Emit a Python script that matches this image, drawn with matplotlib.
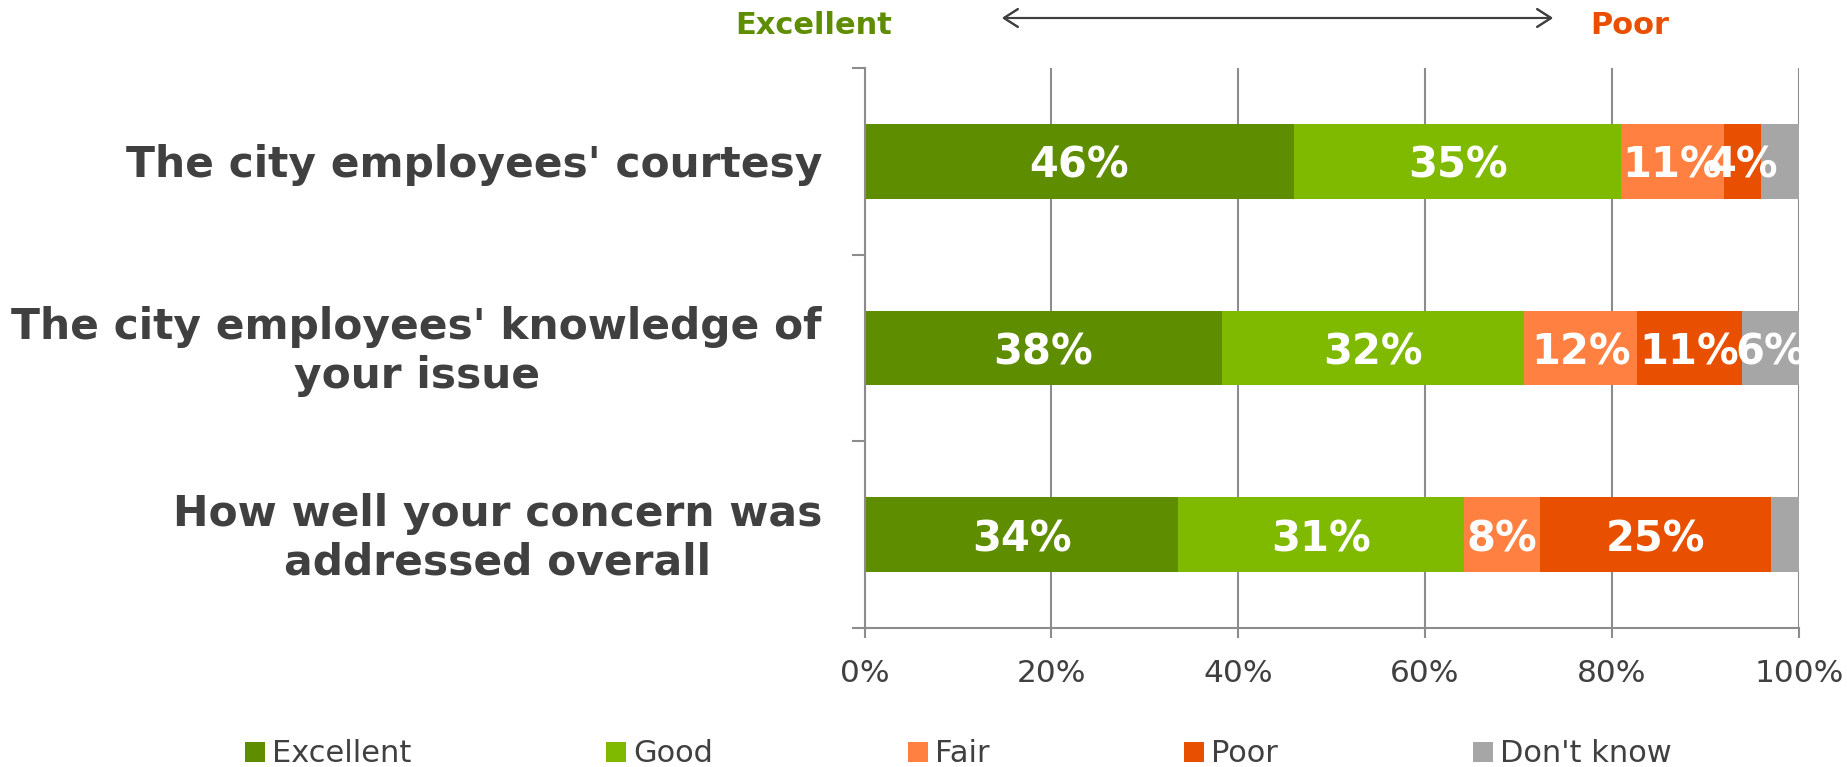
import matplotlib
matplotlib.use("Agg")
import matplotlib.pyplot as plt
from matplotlib.patches import Patch
from matplotlib.transforms import offset_copy
import numpy as np

# survey data (percent)
questions = ["The city employees' courtesy",
             "The city employees' knowledge of\nyour issue",
             "How well your concern was\naddressed overall"]
ratings = ["Excellent", "Good", "Fair", "Poor", "Don't know"]
excellent = [46, 38.3, 33.6]
good = [35, 32.3, 30.6]
fair = [11, 12.1, 8.1]
poor = [4, 11.2, 24.7]
dont_know = [4, 6.1, 3.0]
colors = ["#5E8E00", "#80BA00", "#FF8040", "#E85000", "#A6A6A6"]

text_col = "#404040"
axis_col = "#8C8C8C"

fig = plt.figure(figsize=(18.47, 7.67), dpi=100)
ax = fig.add_axes([0.4681, 0.1812, 0.9739 - 0.4681, 0.9113 - 0.1812])

series = [excellent, good, fair, poor, dont_know]
ypos = np.array([2.5, 1.5, 0.5])
left = np.zeros(3)
for name, vals, col in zip(ratings, series, colors):
    vals = np.array(vals)
    ax.barh(ypos, vals, left=left, height=0.4, color=col, label=name, zorder=2)
    for y, l, v in zip(ypos, left, vals):
        # small "don't know" values are not labelled in the original
        if name == "Don't know" and v < 5:
            continue
        ax.text(l + v / 2, y, f"{v:.0f}%", ha="center", va="center_baseline",
                color="white", fontsize=30, fontweight="bold", zorder=3, clip_on=True)
    left += vals

ax.set_xlim(0, 100)
ax.set_ylim(0, 3)
ax.set_xticks(np.arange(0, 101, 20))
ax.set_xticklabels([f"{t}%" for t in range(0, 101, 20)])
ax.set_yticks([0, 1, 2, 3])
ax.set_yticklabels([])
ax.tick_params(axis="x", colors=axis_col, labelcolor=text_col, labelsize=22.5,
               length=7, width=1.5, pad=15.5)
ax.tick_params(axis="y", colors=axis_col, length=9.5, width=1.5)
ax.grid(axis="x", color=axis_col, linewidth=1.5)
ax.set_axisbelow(True)
for s in ["top", "right"]:
    ax.spines[s].set_visible(False)
for s in ["left", "bottom"]:
    ax.spines[s].set_color(axis_col)
    ax.spines[s].set_linewidth(1.5)

# category labels
lab_trans = offset_copy(ax.get_yaxis_transform(), fig=fig, y=-3.5, units="dots")
for y, q in zip(ypos, questions):
    ax.text(-0.0456, y, q, transform=lab_trans, ha="right", va="center",
            multialignment="center", fontsize=30.5, fontweight="bold", color=text_col,
            linespacing=1.22)

# header: Excellent <-> Poor
fig.text(814 / 1847, 1 - 26 / 767, "Excellent", ha="center", va="center",
         fontsize=22, fontweight="bold", color=colors[0])
fig.text(1630 / 1847, 1 - 26 / 767, "Poor", ha="center", va="center",
         fontsize=22, fontweight="bold", color=colors[3])
fig.add_artist(plt.annotate("", xy=(1553 / 1847, 1 - 18 / 767), xytext=(1002 / 1847, 1 - 18 / 767),
                            xycoords="figure fraction", textcoords="figure fraction",
                            arrowprops=dict(arrowstyle="<->,head_length=0.5,head_width=0.32",
                                            mutation_scale=20, lw=1.5, color=text_col,
                                            shrinkA=0, shrinkB=0)))

handles = [Patch(facecolor=c, label=r) for c, r in zip(colors, ratings)]
fig.legend(handles=handles, loc="center left", bbox_to_anchor=(245 / 1847, 1 - 754 / 767),
           ncol=5, frameon=False, fontsize=22, handlelength=0.65, handleheight=0.65,
           handletextpad=0.23, columnspacing=6.38, borderpad=0, borderaxespad=0,
           labelcolor=text_col)

fig.savefig("out.png", dpi=100)
